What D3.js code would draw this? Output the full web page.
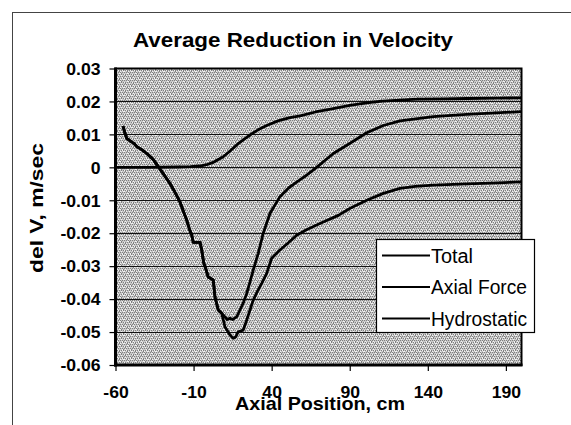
<!DOCTYPE html>
<html><head><meta charset="utf-8">
<script src="https://cdn.jsdelivr.net/npm/d3@7"></script>
<style>html,body{margin:0;padding:0;background:#fff;}svg{display:block;}</style>
</head><body>
<svg id="chart" width="571" height="425"></svg>
<script>
const xTicks = [-60, -10, 40, 90, 140, 190];
const yTicks = [0.03, 0.02, 0.01, 0, -0.01, -0.02, -0.03, -0.04, -0.05, -0.06];
const yTickLabels = ["0.03","0.02","0.01","0","-0.01","-0.02","-0.03","-0.04","-0.05","-0.06"];
const seriesNames = ["Total", "Axial Force", "Hydrostatic"];

const axialX = [-55.2,-54,-52.8,-50,-48,-46.4,-43,-40,-36,-32.6,-29,-25.1,-22,-18.7,-16,-14.4,-12.5,-11.2,-10.2,-5.9,-4.8,-3.5,-2.7,-0.6,2.6,3.7,5.8,8.0,10.1,13.3,15.4,17,18.6,21.8,24.0,28.2,31,33.6,36.8,40.0,45.3,50,56,62,68.8,76,83,90,100.9,111.5,122.2,132,143.5,164.9,185,200];
const axialY = [0.0125,0.0105,0.0088,0.0078,0.0072,0.0063,0.0053,0.0042,0.0025,0.0002,-0.0022,-0.0049,-0.0075,-0.0105,-0.014,-0.016,-0.019,-0.0205,-0.0228,-0.0228,-0.025,-0.029,-0.030,-0.0333,-0.0342,-0.0393,-0.0433,-0.0443,-0.0484,-0.0509,-0.0519,-0.0515,-0.0499,-0.0494,-0.0464,-0.0403,-0.0375,-0.0352,-0.0322,-0.0276,-0.0251,-0.0232,-0.0206,-0.019,-0.0175,-0.016,-0.0145,-0.0125,-0.0100,-0.0079,-0.0064,-0.0058,-0.0054,-0.0050,-0.0047,-0.0044];

const totalX = [-55.2,-54,-52.8,-50,-48,-46.4,-43,-40,-36,-32.6,-29,-25.1,-22,-18.7,-16,-14.4,-12.5,-11.2,-10.2,-5.9,-4.8,-3.5,-2.7,-0.6,2.6,3.7,5.8,8.0,10.1,11.5,13.3,15,17.6,19.7,22,24,26,28.2,31.4,34.6,38.9,45.3,51,56,62,68.8,79.5,90.2,100.9,111.5,122.2,143.5,164.9,200];
const totalY = [0.0125,0.0105,0.0088,0.0078,0.0072,0.0063,0.0053,0.0042,0.0025,0.0002,-0.0022,-0.0049,-0.0075,-0.0105,-0.014,-0.016,-0.019,-0.0205,-0.0228,-0.0228,-0.025,-0.029,-0.030,-0.0333,-0.0342,-0.0393,-0.0433,-0.0443,-0.0454,-0.0462,-0.0458,-0.0462,-0.0454,-0.0433,-0.041,-0.0383,-0.035,-0.0312,-0.0261,-0.0200,-0.0140,-0.0089,-0.0062,-0.0045,-0.0025,0.0000,0.0042,0.0073,0.0105,0.0127,0.0141,0.0154,0.0161,0.0169];

const hydroX = [-60,-40,-20,-12,-6,-1.6,3,9,13,17.6,22,26.1,31,36.8,44,51.7,58.2,68,79.5,90,100.9,111,122.2,133,150,165,185,200];
const hydroY = [0,0,0.0001,0.0002,0.0004,0.0008,0.0016,0.0032,0.0048,0.0068,0.0084,0.0098,0.0113,0.0127,0.0141,0.0151,0.0156,0.0168,0.0178,0.0188,0.0196,0.0201,0.0204,0.0207,0.0208,0.0209,0.0210,0.0211];

const svg = d3.select("#chart");
const L = 115.5, R = 521.5, T = 68.5, B = 365;
const x = d3.scaleLinear().domain([-60, 200]).range([L, R]);
const y = d3.scaleLinear().domain([-0.06, 0.03]).range([B, T]);
const FONT = "'Liberation Sans', Arial, sans-serif";

function widen(sel, factor) {
  sel.each(function() {
    const w = this.getComputedTextLength();
    d3.select(this).attr("textLength", w * factor).attr("lengthAdjust", "spacingAndGlyphs");
  });
}

// pattern for plot background
const defs = svg.append("defs");
const pat = defs.append("pattern").attr("id", "dither").attr("patternUnits", "userSpaceOnUse")
  .attr("width", 8).attr("height", 8);
pat.append("rect").attr("width", 8).attr("height", 8).attr("fill", "#c8c8c8");
const dots = [[0,0],[2,0],[4,0],[6,0],[1,2],[3,2],[5,2],[7,2],[0,4],[2,4],[4,4],[6,4],[1,6],[3,6],[5,6],[7,6],[1,1],[5,3],[3,5],[7,7]];
dots.forEach(d => pat.append("rect").attr("x", d[0]).attr("y", d[1]).attr("width", 1).attr("height", 1).attr("fill", "#808080"));
const lights = [[0,1],[1,3],[2,5],[3,7],[7,1],[6,3],[5,5],[4,7],[4,2],[2,6],[6,6],[0,7]];
lights.forEach(d => pat.append("rect").attr("x", d[0]).attr("y", d[1]).attr("width", 1).attr("height", 1).attr("fill", "#f2f2f2"));

// outer frame
svg.append("rect").attr("x", 12.5).attr("y", 12.5).attr("width", 620).attr("height", 500)
  .attr("fill", "none").attr("stroke", "#444").attr("stroke-width", 1);

// plot background
svg.append("rect").attr("x", L).attr("y", T).attr("width", R - L).attr("height", B - T)
  .attr("fill", "url(#dither)");

// gridlines
svg.append("g").selectAll("line").data(yTicks.slice(1, -1)).join("line")
  .attr("x1", L).attr("x2", R).attr("y1", d => Math.round(y(d)) + 0.5).attr("y2", d => Math.round(y(d)) + 0.5)
  .attr("stroke", "#111").attr("stroke-width", 1.2);

// series
const line = d3.line().x(d => x(d[0])).y(d => y(d[1]));
const series = [
  d3.zip(totalX, totalY),
  d3.zip(axialX, axialY),
  d3.zip(hydroX, hydroY)
];
svg.append("g").selectAll("path").data(series).join("path")
  .attr("d", line).attr("fill", "none").attr("stroke", "#000").attr("stroke-width", 2.8)
  .attr("stroke-linejoin", "round");

// plot border
svg.append("rect").attr("x", L).attr("y", T).attr("width", R - L).attr("height", B - T)
  .attr("fill", "none").attr("stroke", "#000").attr("stroke-width", 2);
svg.append("line").attr("x1", L).attr("x2", L).attr("y1", T - 1).attr("y2", B + 1.5).attr("stroke", "#000").attr("stroke-width", 3);
svg.append("line").attr("x1", L - 1.5).attr("x2", R + 1).attr("y1", B).attr("y2", B).attr("stroke", "#000").attr("stroke-width", 3);

// y axis
const yAxis = d3.axisLeft(y).tickValues(yTicks).tickSize(6).tickPadding(9)
  .tickFormat((d, i) => yTickLabels[i]);
const gy = svg.append("g").attr("transform", `translate(${L},0)`).call(yAxis);
gy.select(".domain").remove();
gy.selectAll(".tick line").attr("stroke", "#000").attr("stroke-width", 1.2);
gy.selectAll(".tick text").attr("font-family", FONT).attr("font-size", 16).attr("font-weight", "bold")
  .attr("fill", "#000").attr("dy", "0.36em");
widen(gy.selectAll(".tick text"), 1.1);

// x axis
const xAxis = d3.axisBottom(x).tickValues(xTicks).tickSize(6).tickPadding(0).tickFormat(d => String(d));
const gx = svg.append("g").attr("transform", `translate(0,${B})`).call(xAxis);
gx.select(".domain").remove();
gx.selectAll(".tick line").attr("stroke", "#000").attr("stroke-width", 1.2);
gx.selectAll(".tick text").attr("font-family", FONT).attr("font-size", 16).attr("font-weight", "bold")
  .attr("fill", "#000").attr("y", 33).attr("dy", 0);
widen(gx.selectAll(".tick text"), 1.1);

// titles
svg.append("text").attr("x", 293).attr("y", 46.5).attr("text-anchor", "middle")
  .attr("font-family", FONT).attr("font-size", 20).attr("font-weight", "bold")
  .text("Average Reduction in Velocity").attr("textLength", 320).attr("lengthAdjust", "spacingAndGlyphs");

svg.append("text").attr("x", 320).attr("y", 410).attr("text-anchor", "middle")
  .attr("font-family", FONT).attr("font-size", 18.5).attr("font-weight", "bold")
  .text("Axial Position, cm").attr("textLength", 170).attr("lengthAdjust", "spacingAndGlyphs");

svg.append("text").attr("transform", "translate(43,208) rotate(-90)").attr("text-anchor", "middle")
  .attr("font-family", FONT).attr("font-size", 17.5).attr("font-weight", "bold")
  .text("del V, m/sec").attr("textLength", 130).attr("lengthAdjust", "spacingAndGlyphs");

// legend
const lg = svg.append("g");
lg.append("rect").attr("x", 376.5).attr("y", 239.5).attr("width", 158).attr("height", 93)
  .attr("fill", "#fff").attr("stroke", "#000").attr("stroke-width", 1.2);
const lineYs = [255.5, 287, 318.5];
const items = lg.selectAll("g.item").data(seriesNames).join("g").attr("class", "item");
items.append("line").attr("x1", 382).attr("x2", 430).attr("y1", (d, i) => lineYs[i]).attr("y2", (d, i) => lineYs[i])
  .attr("stroke", "#000").attr("stroke-width", 2);
items.append("text").attr("x", 431).attr("y", (d, i) => lineYs[i] + 7)
  .attr("font-family", FONT).attr("font-size", 19.5).attr("fill", "#000").text(d => d)
  .attr("textLength", (d, i) => [42, 96, 96][i]).attr("lengthAdjust", "spacingAndGlyphs");
</script>
</body></html>
